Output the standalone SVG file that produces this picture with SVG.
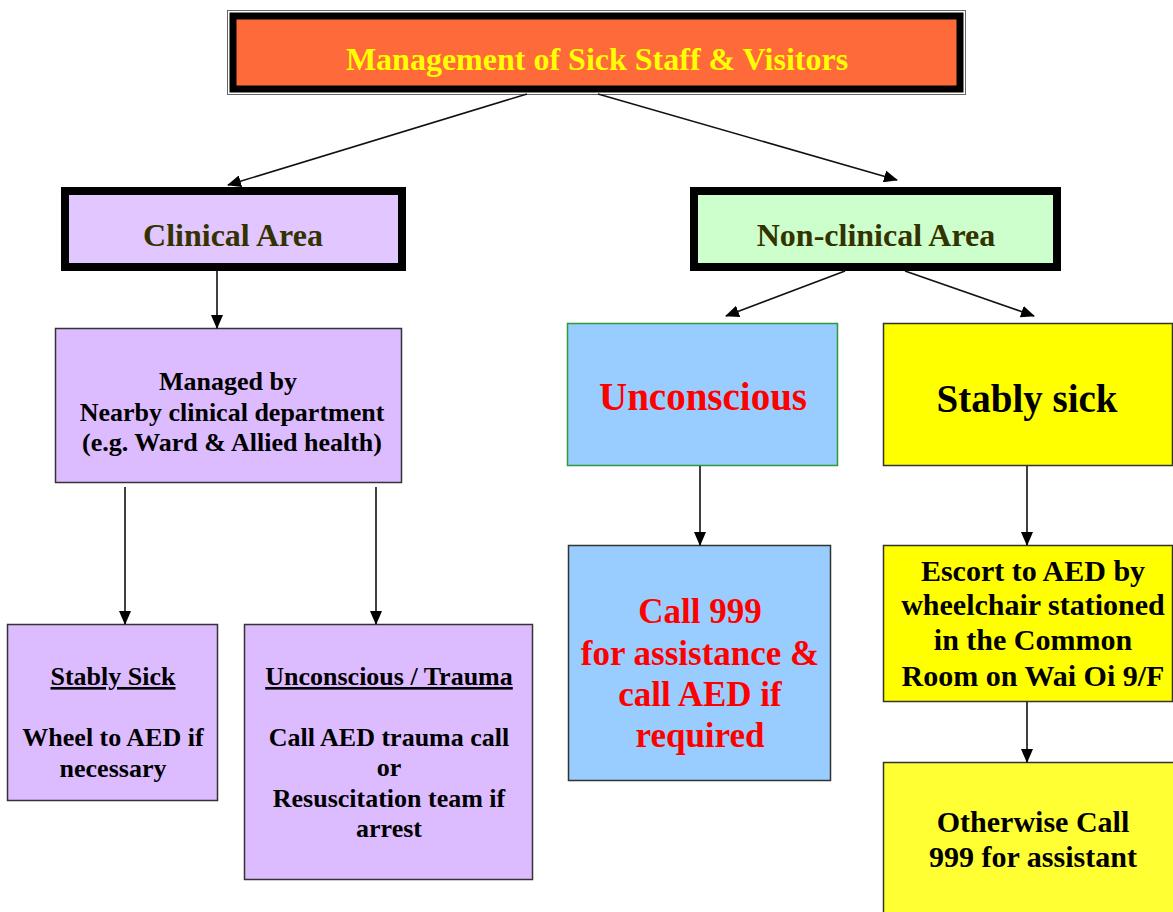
<svg xmlns="http://www.w3.org/2000/svg" width="1173" height="912" viewBox="0 0 1173 912">
<defs>
<marker id="ah" markerWidth="14" markerHeight="12" refX="13" refY="6" orient="auto" markerUnits="userSpaceOnUse">
<path d="M0,0 L14,6 L0,12 Z" fill="#000"/>
</marker>
</defs>
<style>
text{font-family:"Liberation Serif","Times New Roman",serif;font-weight:bold;text-anchor:middle}
.thin{stroke:#333;stroke-width:1.5}
.lav{fill:#DDBBFF}
.yel{fill:#FFFF00}
.blu{fill:#99CCFF}
.b{fill:#000}
.conn line{stroke:#111;stroke-width:1.6;marker-end:url(#ah)}
</style>
<rect width="1173" height="912" fill="#fff"/>
<g id="title">
<rect x="227.5" y="10.5" width="738" height="84" fill="#fff" stroke="#666" stroke-width="1"/>
<rect x="233" y="16" width="727" height="73" fill="#FF6A3A" stroke="#000" stroke-width="7"/>
<text x="597" y="70" font-size="32" fill="#FFFF00">Management of Sick Staff &amp; Visitors</text>
</g>
<g id="clinical">
<rect x="65" y="191" width="337" height="76" fill="#E2C6FF" stroke="#000" stroke-width="8"/>
<text x="233" y="246" font-size="32" fill="#333300">Clinical Area</text>
</g>
<g id="nonclinical">
<rect x="694" y="191" width="363" height="76" fill="#CCFFCC" stroke="#000" stroke-width="8"/>
<text x="876" y="246" font-size="32" fill="#333300">Non-clinical Area</text>
</g>
<g id="managed">
<rect x="55.5" y="328.5" width="346" height="154" class="lav thin"/>
<text x="228" y="390" font-size="26" class="b">Managed by</text>
<text x="232" y="421" font-size="26" class="b">Nearby clinical department</text>
<text x="232" y="451" font-size="26" class="b">(e.g. Ward &amp; Allied health)</text>
</g>
<g id="stably-sick-clinical">
<rect x="7.5" y="624.5" width="210" height="176" class="lav thin"/>
<text x="113" y="685" font-size="26" class="b" text-decoration="underline">Stably Sick</text>
<text x="113" y="746" font-size="26" class="b">Wheel to AED if</text>
<text x="113" y="777" font-size="26" class="b">necessary</text>
</g>
<g id="unconscious-trauma">
<rect x="244.5" y="624.5" width="288" height="255" class="lav thin"/>
<text x="389" y="685" font-size="26" class="b" text-decoration="underline">Unconscious / Trauma</text>
<text x="389" y="746" font-size="26" class="b">Call AED trauma call</text>
<text x="389" y="776" font-size="26" class="b">or</text>
<text x="389" y="807" font-size="26" class="b">Resuscitation team if</text>
<text x="389" y="837" font-size="26" class="b">arrest</text>
</g>
<g id="unconscious">
<rect x="567.5" y="323.5" width="270" height="142" class="blu" stroke="#2E9A3A" stroke-width="1.5"/>
<text x="703" y="410" font-size="39" fill="#FF0000">Unconscious</text>
</g>
<g id="stably-sick">
<rect x="883.5" y="323.5" width="289" height="142" class="yel thin"/>
<text x="1027" y="412" font-size="39" class="b">Stably sick</text>
</g>
<g id="call999">
<rect x="568.5" y="545.5" width="262" height="235" class="blu thin"/>
<text x="700" y="623" font-size="35" fill="#FF0000">Call 999</text>
<text x="700" y="665" font-size="35" fill="#FF0000">for assistance &amp;</text>
<text x="700" y="706" font-size="35" fill="#FF0000">call AED if</text>
<text x="700" y="747" font-size="35" fill="#FF0000">required</text>
</g>
<g id="escort">
<rect x="883.5" y="545.5" width="289" height="156" class="yel thin"/>
<text x="1033" y="581" font-size="30" class="b">Escort to AED by</text>
<text x="1033" y="615" font-size="30" class="b">wheelchair stationed</text>
<text x="1033" y="650" font-size="30" class="b">in the Common</text>
<text x="1033" y="686" font-size="30" class="b">Room on Wai Oi 9/F</text>
</g>
<g id="otherwise">
<rect x="883.5" y="762.5" width="292" height="160" fill="#FFFF33" class="thin"/>
<text x="1033" y="832" font-size="30" class="b">Otherwise Call</text>
<text x="1033" y="867" font-size="30" class="b">999 for assistant</text>
</g>
<g id="connectors" class="conn">
<line x1="527" y1="94" x2="228" y2="185"/>
<line x1="598" y1="94" x2="897" y2="180"/>
<line x1="217" y1="271" x2="217" y2="328"/>
<line x1="125" y1="487" x2="125" y2="624"/>
<line x1="376" y1="487" x2="376" y2="624"/>
<line x1="845" y1="271" x2="726" y2="316"/>
<line x1="905" y1="271" x2="1034" y2="316"/>
<line x1="700" y1="466" x2="700" y2="545"/>
<line x1="1027" y1="466" x2="1027" y2="545"/>
<line x1="1027" y1="702" x2="1027" y2="762"/>
</g>
</svg>
